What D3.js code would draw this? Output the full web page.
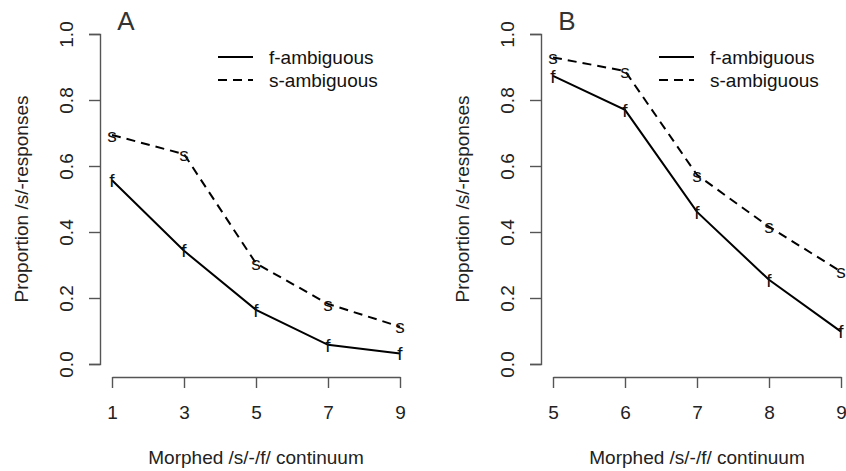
<!DOCTYPE html>
<html>
<head>
<meta charset="utf-8">
<script src="https://cdn.jsdelivr.net/npm/d3@7"></script>
<style>
  body { margin: 0; background: #fff; }
  text { font-family: "Liberation Sans", Arial, sans-serif; }
</style>
</head>
<body>
<script>
(()=>{
    const width = 846;
    const height = 471;

    // panel A: steps 1..9 (odd)
    const stepsA = [1, 3, 5, 7, 9];
    const fAmbA = [0.557, 0.343, 0.164, 0.058, 0.032];
    const sAmbA = [0.694, 0.636, 0.305, 0.182, 0.113];

    // panel B: steps 5..9
    const stepsB = [5, 6, 7, 8, 9];
    const fAmbB = [0.873, 0.770, 0.461, 0.255, 0.098];
    const sAmbB = [0.929, 0.888, 0.573, 0.416, 0.280];

    const yTicks = [0, 0.2, 0.4, 0.6, 0.8, 1.0];
    const seriesNames = ["f-ambiguous", "s-ambiguous"];
    const markers = ["f", "s"];
    const xTitle = "Morphed /s/-/f/ continuum";
    const yTitle = "Proportion /s/-responses";

    const svg = d3.select("body").append("svg")
        .attr("width", width)
        .attr("height", height);

    const drawPanel = (opt) => {
        const {left, steps, fVals, sVals, tag} = opt;
        const x = d3.scaleLinear()
            .domain(d3.extent(steps))
            .range([left + 12, left + 300]);
        const y = d3.scaleLinear()
            .domain([0, 1])
            .range([364, 34]);

        const g = svg.append("g");

        // y axis (offset like R)
        const yAx = g.append("g")
            .attr("transform", `translate(${left},0)`)
            .call(d3.axisLeft(y).tickValues(yTicks).tickSize(11).tickFormat(d3.format(".1f")));
        yAx.select(".domain").attr("stroke", "#555").attr("stroke-width", 1.4);
        yAx.selectAll(".tick line").attr("stroke", "#555").attr("stroke-width", 1.4);
        yAx.selectAll(".tick text")
            .style("font-size", "19px")
            .attr("fill", "#222")
            .attr("x", 0).attr("dy", 0)
            .attr("text-anchor", "middle")
            .attr("transform", "translate(-27,0) rotate(-90)");

        // x axis
        const xAx = g.append("g")
            .attr("transform", `translate(0,377)`)
            .call(d3.axisBottom(x).tickValues(steps).tickSize(11).tickSizeOuter(0).tickFormat(d3.format("d")));
        xAx.select(".domain").attr("stroke", "#555").attr("stroke-width", 1.4);
        xAx.selectAll(".tick line").attr("stroke", "#555").attr("stroke-width", 1.4);
        xAx.selectAll(".tick text")
            .style("font-size", "19px")
            .attr("fill", "#222")
            .attr("y", 42).attr("dy", 0);

        // titles
        g.append("text")
            .attr("x", (x.range()[0] + x.range()[1]) / 2)
            .attr("y", 464)
            .attr("text-anchor", "middle")
            .style("font-size", "19px")
            .attr("fill", "#222")
            .text(xTitle);
        g.append("text")
            .attr("transform", `translate(${left - 72},199) rotate(-90)`)
            .attr("text-anchor", "middle")
            .style("font-size", "19px")
            .attr("fill", "#222")
            .text(yTitle);
        g.append("text")
            .attr("x", left + 26)
            .attr("y", 30)
            .attr("text-anchor", "middle")
            .style("font-size", "26px")
            .attr("fill", "#333")
            .attr("font-family", "'Open Sans', sans-serif")
            .text(tag);

        // lines + letter markers
        const line = d3.line()
            .x(d => x(d.step))
            .y(d => y(d.v));
        [fVals, sVals].forEach((vals, i) => {
            const pts = steps.map((s, j) => ({step: s, v: vals[j]}));
            g.append("path")
                .datum(pts)
                .attr("fill", "none")
                .attr("stroke", "#000")
                .attr("stroke-width", 2)
                .attr("stroke-dasharray", i === 1 ? "9,6" : null)
                .attr("d", line);
            g.selectAll(null)
                .data(pts)
                .join("text")
                .attr("x", d => x(d.step))
                .attr("y", d => y(d.v))
                .attr("dy", "0.35em")
                .attr("text-anchor", "middle")
                .style("font-size", "19px")
                .attr("fill", "#111")
                .text(markers[i]);
        });

        // legend
        const lg = g.append("g").attr("transform", `translate(${left + 118},57)`);
        seriesNames.forEach((name, i) => {
            lg.append("line")
                .attr("x1", 0).attr("x2", 35)
                .attr("y1", i * 23).attr("y2", i * 23)
                .attr("stroke", "#000")
                .attr("stroke-width", 2)
                .attr("stroke-dasharray", i === 1 ? "9,6" : null);
            lg.append("text")
                .attr("x", 51)
                .attr("y", i * 23)
                .attr("dy", "0.35em")
                .style("font-size", "19px")
                .attr("fill", "#111")
                .text(name);
        });
    };

    drawPanel({left: 100, steps: stepsA, fVals: fAmbA, sVals: sAmbA, tag: "A"});
    drawPanel({left: 541, steps: stepsB, fVals: fAmbB, sVals: sAmbB, tag: "B"});
})()
</script>
</body>
</html>
